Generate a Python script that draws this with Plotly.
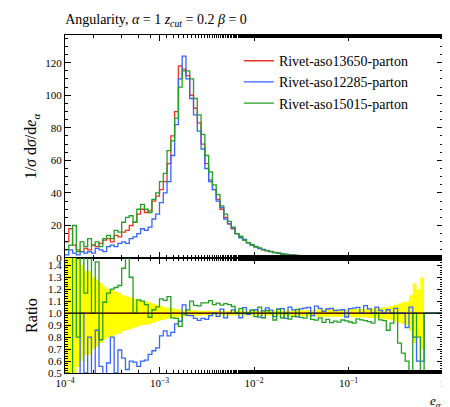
import plotly.graph_objects as go

# 25 log bins per decade from 1e-4 up to 1
log_edges = [-4 + 0.04 * i for i in range(101)]
edges = [10 ** v for v in log_edges]

red = [10, 18, 8, 5, 4, 6, 5, 8, 7, 9,
       11, 12, 10, 14, 13, 16, 17, 20, 22, 27,
       30, 28, 29, 35, 38, 42, 47, 58, 75, 90,
       118, 116, 112, 100, 92, 83, 70, 58, 48, 42,
       36, 30, 25, 21, 18, 15, 13, 11, 9.5, 8,
       7, 6, 5.2, 4.5, 4, 3.5, 3, 2.6, 2.3, 2,
       1.8, 1.6, 1.4, 1.2, 1.05, 0.95, 0.85, 0.75, 0.65, 0.58,
       0.5, 0.45, 0.4, 0.35, 0.31, 0.27, 0.24, 0.21, 0.18, 0.16,
       0.14, 0.12, 0.1, 0.09, 0.08, 0.07, 0.06, 0.05, 0.04, 0.03,
       0.025, 0.02, 0.015, 0.01, 0.005, 0, 0, 0, 0, 0]
blue = [2, 5, 3, 2, 4, 3, 4, 3, 6, 5,
        4, 7, 8, 7, 9, 10, 9, 12, 13, 15,
        18, 17, 19, 24, 27, 34, 40, 47, 63, 82,
        110, 124, 110, 98, 88, 78, 67, 55, 47, 42,
        35, 31, 24, 21, 18.5, 15, 12.5, 11.5, 9.4, 8.2,
        7.2, 5.8, 5.3, 4.7, 4.1, 3.4, 3.1, 2.7, 2.2, 2.1,
        1.85, 1.55, 1.45, 1.25, 1.1, 0.93, 0.9, 0.78, 0.66, 0.6,
        0.52, 0.46, 0.41, 0.36, 0.3, 0.28, 0.25, 0.22, 0.18, 0.17,
        0.145, 0.12, 0.105, 0.092, 0.08, 0.072, 0.06, 0.052, 0.04, 0.03,
        0.022, 0.021, 0.012, 0.006, 0.003, 0, 0, 0, 0, 0]
green = [5, 8, 20, 4, 10, 7, 12, 8, 10, 7,
         12, 14, 12, 17, 16, 22, 25, 26, 22, 30,
         33, 30, 28, 36, 40, 47, 52, 66, 72, 86,
         105, 115, 115, 110, 98, 88, 76, 63, 53, 45,
         39, 32, 27, 22.5, 19, 15, 13.5, 11, 9.5, 8.2,
         6.8, 6.3, 5, 4.6, 4, 3.3, 3.1, 2.5, 2.3, 1.9,
         1.75, 1.65, 1.35, 1.15, 1.05, 0.9, 0.8, 0.72, 0.6, 0.55,
         0.46, 0.42, 0.37, 0.33, 0.29, 0.25, 0.22, 0.2, 0.17, 0.15,
         0.13, 0.11, 0.1, 0.085, 0.075, 0.06, 0.055, 0.05, 0.03, 0.02,
         0.015, 0.01, 0.015, 0.008, 0.002, 0, 0, 0, 0, 0]
# relative uncertainty of the reference (red) histogram
rel_err = [.6, .5, .55, .45, .4, .35, .35, .3, .28, .25,
           .22, .2, .2, .18, .17, .15, .14, .13, .12, .11,
           .1, .1, .09, .08, .07, .06, .05, .045, .04, .035,
           .03, .025, .025, .025, .025, .02, .02, .02, .02, .02,
           .02, .02, .02, .02, .02, .02, .02, .02, .02, .02,
           .02, .02, .02, .02, .02, .02, .02, .02, .025, .025,
           .025, .025, .025, .025, .025, .025, .03, .03, .03, .03,
           .03, .03, .03, .03, .03, .035, .035, .035, .035, .035,
           .04, .04, .045, .045, .05, .05, .06, .07, .08, .09,
           .1, .15, .25, .2, .3, 0, 0, 0, 0, 0]

series = [("Rivet-aso13650-parton", red, "#ee3322"),
          ("Rivet-aso12285-parton", blue, "#3366ff"),
          ("Rivet-aso15015-parton", green, "#22a022")]


def step(vals):
    return list(vals) + [vals[-1]]


fig = go.Figure()

# yellow uncertainty band in ratio panel
up = [1 + e for e in rel_err]
dn = [1 - e for e in rel_err]
fig.add_trace(go.Scatter(x=edges, y=step(dn), line_shape="hv", mode="lines",
                         line=dict(width=0), showlegend=False, xaxis="x2", yaxis="y2",
                         hoverinfo="skip"))
fig.add_trace(go.Scatter(x=edges, y=step(up), line_shape="hv", mode="lines",
                         line=dict(width=0), fill="tonexty", fillcolor="#ffff00",
                         showlegend=False, xaxis="x2", yaxis="y2", hoverinfo="skip"))

for name, vals, col in series:
    fig.add_trace(go.Scatter(x=edges, y=step(vals), line_shape="hv", mode="lines",
                             line=dict(color=col, width=1.3), name=name))
for name, vals, col in series:
    ratio = [v / r if r > 0 else 1 for v, r in zip(vals, red)]
    fig.add_trace(go.Scatter(x=edges, y=step(ratio), line_shape="hv", mode="lines",
                             line=dict(color=col, width=1.3), showlegend=False,
                             xaxis="x2", yaxis="y2"))

ticks_x = [1e-4, 1e-3, 1e-2, 1e-1, 1]
ticks_t = ["10<sup>−4</sup>", "10<sup>−3</sup>", "10<sup>−2</sup>", "10<sup>−1</sup>", "1"]
common = dict(showline=True, linecolor="black", linewidth=1, mirror="ticks",
              ticks="inside", ticklen=6, tickcolor="black", showgrid=False, zeroline=False,
              tickfont=dict(size=11))

fig.update_layout(
    width=450, height=407,
    margin=dict(l=57, r=15, t=27, b=42),
    plot_bgcolor="white", paper_bgcolor="white",
    font=dict(family="Liberation Serif", size=13, color="black"),
    title=dict(text="Angularity, <i>α</i> = 1 <i>z</i><sub><i>cut</i></sub> = 0.2 <i>β</i> = 0",
               x=0.127, xanchor="left", y=0.985, yanchor="top", font=dict(size=14)),
    legend=dict(x=0.46, y=0.97, xanchor="left", yanchor="top", bgcolor="rgba(0,0,0,0)",
                traceorder="normal", font=dict(size=14)),
    xaxis=dict(type="log", range=[-4, 0], anchor="y", matches="x2", showticklabels=False,
               tickvals=ticks_x, minor=dict(ticks="inside", ticklen=3, tickcolor="black"),
               **common),
    yaxis=dict(domain=[0.34, 1], range=[0, 137], dtick=20,
               minor=dict(ticks="inside", ticklen=3, dtick=5, tickcolor="black"),
               title=dict(text="1/<i>σ</i> d<i>σ</i>/d<i>e</i><sub><i>α</i></sub>", standoff=4),
               **common),
    xaxis2=dict(type="log", range=[-4, 0], anchor="y2", tickvals=ticks_x, ticktext=ticks_t,
                minor=dict(ticks="inside", ticklen=3, tickcolor="black"), **common),
    yaxis2=dict(domain=[0, 0.34], range=[0.5, 1.46], tickvals=[0.5 + 0.1 * i for i in range(10)],
                ticktext=["0.5", "0.6", "0.7", "0.8", "0.9", "1.0", "1.1", "1.2", "1.3", "1.4"],
                minor=dict(ticks="inside", ticklen=3, dtick=0.02, tickcolor="black"),
                title=dict(text="Ratio", standoff=6), **common),
    shapes=[dict(type="line", xref="paper", x0=0, x1=1, yref="y2", y0=1, y1=1,
                 line=dict(color="black", width=1))],
    annotations=[dict(text="<i>e</i><sub><i>α</i></sub>", xref="paper", yref="paper",
                      x=1, y=0, xanchor="right", yanchor="top", yshift=-18,
                      showarrow=False, font=dict(size=13))],
)

fig.write_html("out.html")
